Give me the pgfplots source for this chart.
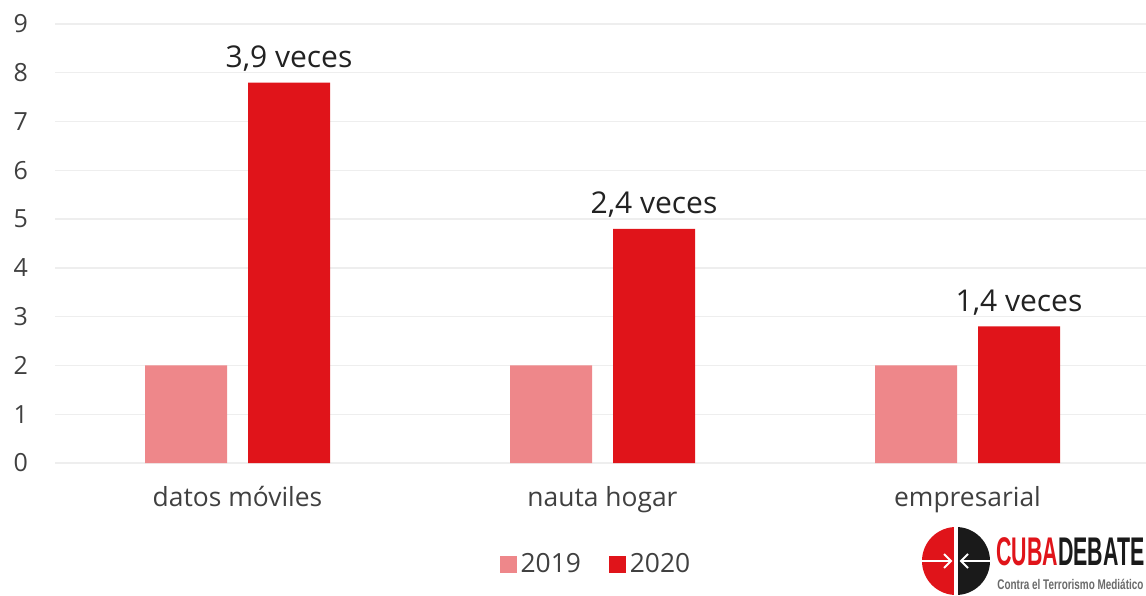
\documentclass[border=0pt]{standalone}
\usepackage{pgfplots}
\pgfplotsset{compat=1.18}
\usepackage{fontspec}
\setmainfont{Open Sans}
\newfontfamily\logofont{Liberation Sans}
\definecolor{c19}{HTML}{EE878A}
\definecolor{c20}{HTML}{E0141A}
\definecolor{txt}{HTML}{404040}
\definecolor{ann}{HTML}{222222}
\definecolor{gridc}{HTML}{EEEEEE}
\definecolor{logoblack}{HTML}{1A1A1A}
\definecolor{logogray}{HTML}{6A6A6A}
\begin{document}
\begin{tikzpicture}[x=1pt,y=1pt]
\useasboundingbox (0,0) rectangle (573,297.5);
\begin{axis}[
  at={(27.5pt,66pt)}, anchor=south west,
  scale only axis, width=547.5pt, height=219.5pt,
  xmin=-0.5, xmax=2.5, ymin=0, ymax=9,
  ytick={0,...,9}, xtick={0,1,2},
  xticklabels={datos móviles, nauta hogar, empresarial},
  axis line style={draw=none},
  major tick length=0pt,
  ymajorgrids, grid style={gridc, line width=0.7pt},
  ybar, bar width=41pt,
  yticklabel style={font=\fontsize{12.5}{14}\selectfont, text=txt, anchor=east, xshift=-10pt},
  xticklabel style={font=\fontsize{13.2}{15}\selectfont, text=txt, yshift=-8pt},
  /pgf/number format/assume math mode=true,
  legend style={at={(0.495,-0.232)}, anchor=center, draw=none, fill=none,
    font=\fontsize{13.2}{15}\selectfont, text=txt,
    /tikz/every even column/.append style={column sep=12pt}},
  legend columns=2,
  legend image code/.code={\fill[#1] (0pt,-4.2pt) rectangle (8.4pt,4.2pt);},
]
\addplot[fill=c19, draw=none, bar shift=-25.75pt] coordinates {(0,2) (1,2) (2,2)};
\addplot[fill=c20, draw=none, bar shift=25.75pt] coordinates {(0,7.8) (1,4.8) (2,2.8)};
\legend{2019,2020}
\node[anchor=base, xshift=25.75pt, yshift=7.5pt, text=ann, font=\fontsize{15}{17}\selectfont] at (axis cs:0,7.8) {3,9 veces};
\node[anchor=base, xshift=25.75pt, yshift=7.5pt, text=ann, font=\fontsize{15}{17}\selectfont] at (axis cs:1,4.8) {2,4 veces};
\node[anchor=base, xshift=25.75pt, yshift=7.5pt, text=ann, font=\fontsize{15}{17}\selectfont] at (axis cs:2,2.8) {1,4 veces};
\end{axis}
% logo
\begin{scope}[shift={(478,17)}]
  \fill[c20] (0,-17) arc (270:90:17) -- cycle;
  \fill[logoblack] (0,17) arc (90:-90:17) -- cycle;
  \fill[white] (-0.8,-17) rectangle (0.8,17);
  \draw[white, line width=1pt] (-17,0) -- (-2.5,0);
  \draw[white, line width=1pt] (17,0) -- (2.5,0);
  \draw[white, line width=1pt] (-6,3.5) -- (-2.5,0) -- (-6,-3.5);
  \draw[white, line width=1pt] (6,3.5) -- (2.5,0) -- (6,-3.5);
\end{scope}
\node[anchor=base west, inner sep=0pt] at (498,15) {\resizebox{74pt}{\height}{\logofont\bfseries\fontsize{20}{20}\selectfont\textcolor{c20}{CUBA}\textcolor{logoblack}{DEBATE}}};
\node[anchor=base west, inner sep=0pt, text=logogray] at (498.5,3) {\resizebox{73pt}{\height}{\logofont\bfseries\fontsize{7}{8}\selectfont Contra el Terrorismo Mediático}};
\end{tikzpicture}
\end{document}
